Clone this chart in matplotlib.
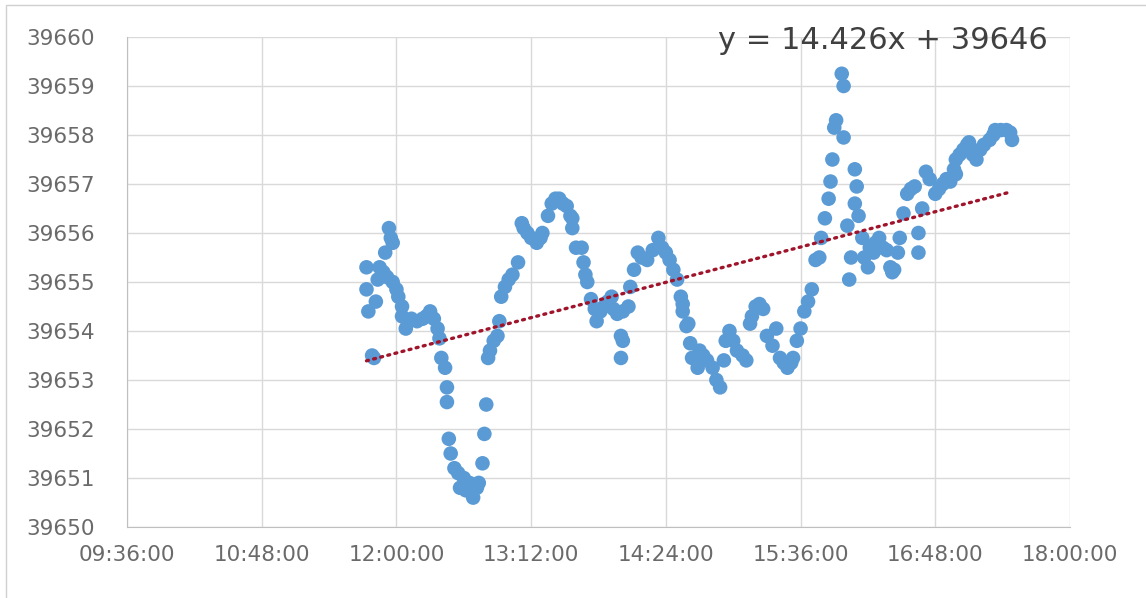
import numpy as np
import matplotlib.pyplot as plt
from matplotlib.ticker import FuncFormatter, MultipleLocator
from matplotlib.patches import Rectangle

# horas de las lecturas (hh:mm) y valores
times = ["11:44", "11:44", "11:45", "11:47", "11:48", "11:49", "11:50", "11:51", "11:53", "11:54",
         "11:55", "11:56", "11:57", "11:58", "11:58", "12:00", "12:01", "12:03", "12:03", "12:05",
         "12:06", "12:08", "12:11", "12:14", "12:16", "12:18", "12:20", "12:22", "12:23", "12:24",
         "12:26", "12:27", "12:27", "12:28", "12:29", "12:31", "12:33", "12:34", "12:36", "12:37",
         "12:39", "12:40", "12:41", "12:43", "12:44", "12:46", "12:47", "12:48", "12:49", "12:50",
         "12:52", "12:54", "12:55", "12:56", "12:58", "13:00", "13:02", "13:05", "13:07", "13:08",
         "13:10", "13:12", "13:15", "13:17", "13:18", "13:21", "13:23", "13:25", "13:27", "13:29",
         "13:31", "13:33", "13:34", "13:34", "13:36", "13:39", "13:40", "13:41", "13:42", "13:44",
         "13:46", "13:47", "13:49", "13:51", "13:53", "13:55", "13:56", "13:58", "14:00", "14:00",
         "14:01", "14:01", "14:04", "14:05", "14:07", "14:09", "14:11", "14:14", "14:17", "14:20",
         "14:22", "14:24", "14:26", "14:28", "14:30", "14:32", "14:33", "14:33", "14:35", "14:36",
         "14:37", "14:38", "14:41", "14:42", "14:44", "14:46", "14:49", "14:51", "14:53", "14:55",
         "14:56", "14:58", "15:00", "15:02", "15:05", "15:07", "15:09", "15:10", "15:12", "15:14",
         "15:16", "15:18", "15:21", "15:23", "15:25", "15:27", "15:29", "15:31", "15:32", "15:34",
         "15:36", "15:38", "15:40", "15:42", "15:44", "15:46", "15:47", "15:49", "15:51", "15:52",
         "15:53", "15:54", "15:55", "15:58", "15:59", "15:59", "16:01", "16:02", "16:03", "16:05",
         "16:05", "16:06", "16:07", "16:09", "16:10", "16:12", "16:13", "16:15", "16:16", "16:18",
         "16:20", "16:22", "16:24", "16:25", "16:26", "16:28", "16:29", "16:31", "16:33", "16:35",
         "16:37", "16:39", "16:39", "16:41", "16:43", "16:45", "16:48", "16:50", "16:52", "16:54",
         "16:56", "16:58", "16:59", "16:59", "17:01", "17:03", "17:05", "17:06", "17:08", "17:10",
         "17:12", "17:14", "17:17", "17:19", "17:20", "17:23", "17:26", "17:28", "17:29"]

prices = [39655.3, 39654.85, 39654.4, 39653.5, 39653.45, 39654.6, 39655.05, 39655.3, 39655.2, 39655.6,
          39655.1, 39656.1, 39655.9, 39655.8, 39655.0, 39654.85, 39654.7, 39654.5, 39654.3, 39654.05,
          39654.2, 39654.25, 39654.2, 39654.25, 39654.3, 39654.4, 39654.25, 39654.05, 39653.85, 39653.45,
          39653.25, 39652.85, 39652.55, 39651.8, 39651.5, 39651.2, 39651.1, 39650.8, 39651.0, 39650.75,
          39650.9, 39650.7, 39650.6, 39650.8, 39650.9, 39651.3, 39651.9, 39652.5, 39653.45, 39653.6,
          39653.8, 39653.9, 39654.2, 39654.7, 39654.9, 39655.05, 39655.15, 39655.4, 39656.2, 39656.1,
          39656.0, 39655.9, 39655.8, 39655.9, 39656.0, 39656.35, 39656.6, 39656.7, 39656.7, 39656.6,
          39656.55, 39656.35, 39656.1, 39656.3, 39655.7, 39655.7, 39655.4, 39655.15, 39655.0, 39654.65,
          39654.45, 39654.2, 39654.4, 39654.5, 39654.6, 39654.7, 39654.45, 39654.35, 39653.9, 39653.45,
          39653.8, 39654.4, 39654.5, 39654.9, 39655.25, 39655.6, 39655.5, 39655.45, 39655.65, 39655.9,
          39655.7, 39655.6, 39655.45, 39655.25, 39655.05, 39654.7, 39654.4, 39654.55, 39654.1, 39654.15,
          39653.75, 39653.45, 39653.25, 39653.6, 39653.5, 39653.4, 39653.25, 39653.0, 39652.85, 39653.4,
          39653.8, 39654.0, 39653.8, 39653.6, 39653.5, 39653.4, 39654.15, 39654.3, 39654.5, 39654.55,
          39654.45, 39653.9, 39653.7, 39654.05, 39653.45, 39653.35, 39653.25, 39653.35, 39653.45, 39653.8,
          39654.05, 39654.4, 39654.6, 39654.85, 39655.45, 39655.5, 39655.9, 39656.3, 39656.7, 39657.05,
          39657.5, 39658.15, 39658.3, 39659.25, 39659.0, 39657.95, 39656.15, 39655.05, 39655.5, 39657.3,
          39656.6, 39656.95, 39656.35, 39655.9, 39655.5, 39655.3, 39655.7, 39655.6, 39655.8, 39655.9,
          39655.7, 39655.65, 39655.3, 39655.2, 39655.25, 39655.6, 39655.9, 39656.4, 39656.8, 39656.9,
          39656.95, 39656.0, 39655.6, 39656.5, 39657.25, 39657.1, 39656.8, 39656.9, 39657.0, 39657.1,
          39657.05, 39657.3, 39657.2, 39657.5, 39657.6, 39657.7, 39657.8, 39657.85, 39657.6, 39657.5,
          39657.7, 39657.8, 39657.9, 39658.0, 39658.1, 39658.1, 39658.1, 39658.05, 39657.9]

equation = "y = 14.426x + 39646"

# tiempo como fraccion de dia (igual que Excel)
x = np.array([int(t[:2]) / 24 + int(t[3:]) / 1440 for t in times])
y = np.array(prices)

fig = plt.figure(figsize=(11.46, 5.98), dpi=100)
fig.patches.append(Rectangle((0.005, -0.1), 1.2, 1.092, transform=fig.transFigure,
                             fill=False, edgecolor='#d0d0d0', lw=1))
ax = fig.add_axes([127 / 1146, 71 / 598, 943 / 1146, 490 / 598])

ax.scatter(x, y, s=110, color='#5B9BD5', edgecolors='none', zorder=3)

# linea de tendencia lineal
m, b = np.polyfit(x, y, 1)
xl = np.array([x.min(), x.max()])
ax.plot(xl, m * xl + b, color='#A0142B', lw=2.4, linestyle=(0, (0.6, 1.6)),
        dash_capstyle='round', zorder=4)

fig.text(0.77, 0.933, equation, ha='center', va='center', fontsize=22, color='#404040')

def fmt_hora(v, pos):
    mins = int(round(v * 1440))
    return f"{mins // 60:02d}:{mins % 60:02d}:00"

ax.set_xlim(0.4, 0.75)
ax.set_ylim(39650, 39660)
ax.xaxis.set_major_locator(MultipleLocator(0.05))
ax.yaxis.set_major_locator(MultipleLocator(1))
ax.xaxis.set_major_formatter(FuncFormatter(fmt_hora))
ax.yaxis.set_major_formatter(FuncFormatter(lambda v, p: f"{int(v)}"))

ax.grid(True, color='#d9d9d9', lw=1)
ax.set_axisbelow(True)
for s in ['top', 'right']:
    ax.spines[s].set_visible(False)
for s in ['left', 'bottom']:
    ax.spines[s].set_color('#bfbfbf')
ax.tick_params(axis='x', length=0, pad=13, labelcolor='#6a6a6a', labelsize=15.5)
ax.tick_params(axis='y', length=0, pad=23, labelcolor='#6a6a6a', labelsize=15.5)

plt.savefig("out.png", dpi=100)
